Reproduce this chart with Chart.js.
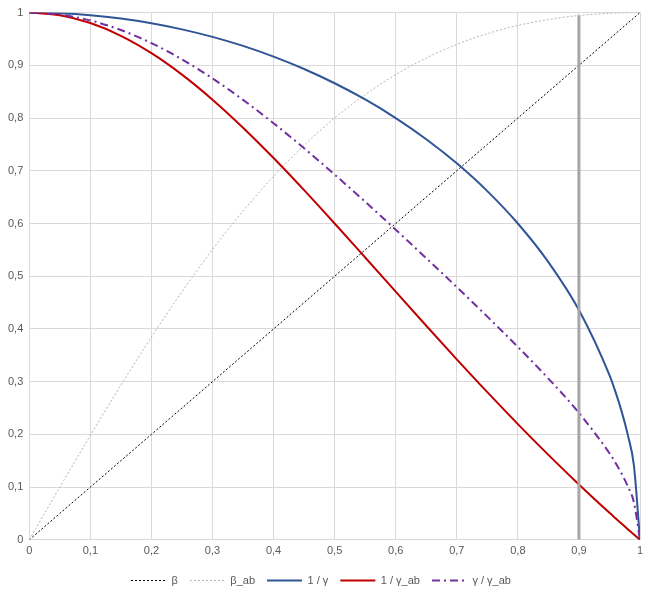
<!DOCTYPE html>
<html>
<head>
<meta charset="utf-8">
<script src="https://cdn.jsdelivr.net/npm/chart.js@4"></script>
<style>
  body { margin: 0; background: #fff; }
  #wrap { width: 655px; height: 598px; position: relative; }
</style>
</head>
<body>
<div id="wrap"><canvas id="myChart"></canvas></div>
<script>
// values
var betaVals   = [0, 0.05, 0.1, 0.15, 0.2, 0.25, 0.3, 0.35, 0.4, 0.45, 0.5, 0.55, 0.6, 0.65, 0.7, 0.75, 0.8, 0.85, 0.9, 0.95, 0.96, 0.97, 0.98, 0.99, 1];
var betaAb     = [0, 0.0998, 0.198, 0.2934, 0.3846, 0.4706, 0.5505, 0.6236, 0.6897, 0.7484, 0.8, 0.8445, 0.8824, 0.9139, 0.9396, 0.96, 0.9756, 0.9869, 0.9945, 0.9987, 0.9992, 0.9995, 0.9998, 0.99995, 1];
var invGamma   = [1, 0.9987, 0.995, 0.9887, 0.9798, 0.9682, 0.9539, 0.9368, 0.9165, 0.893, 0.866, 0.8352, 0.8, 0.7599, 0.7141, 0.6614, 0.6, 0.5268, 0.4359, 0.3122, 0.28, 0.2431, 0.199, 0.1411, 0];
var invGammaAb = [1, 0.995, 0.9802, 0.956, 0.9231, 0.8824, 0.8349, 0.7817, 0.7241, 0.6632, 0.6, 0.5355, 0.4706, 0.406, 0.3423, 0.28, 0.2195, 0.1611, 0.105, 0.0512, 0.0408, 0.0305, 0.0202, 0.01, 0];
var gammaRatio = [1, 0.9963, 0.9851, 0.9669, 0.9421, 0.9113, 0.8752, 0.8345, 0.7901, 0.7427, 0.6928, 0.6412, 0.5882, 0.5342, 0.4793, 0.4233, 0.3659, 0.3058, 0.2408, 0.1641, 0.1457, 0.1253, 0.1015, 0.0712, 0];
var markerX    = [0.9, 0.9];
var markerY    = [0, 0.9945];

function pts(xs, ys) {
  return xs.map(function (x, i) { return { x: x, y: ys[i] }; });
}
function fmt(v) {
  return String(Number(v.toFixed(1))).replace('.', ',');
}

var ctx = document.getElementById('myChart').getContext('2d');
var myChart = new Chart(ctx, {
  type: 'line',
  data: {
    datasets: [
      { label: 'β', data: pts(betaVals, betaVals), borderColor: '#000000', borderWidth: 1, borderDash: [2, 2], order: 5 },
      { label: 'β_ab', data: pts(betaVals, betaAb), borderColor: '#b4b4b4', borderWidth: 1, borderDash: [2, 2], cubicInterpolationMode: 'monotone', order: 4 },
      { label: '1 / γ', data: pts(betaVals, invGamma), borderColor: '#2f5597', borderWidth: 2, cubicInterpolationMode: 'monotone', order: 3 },
      { label: '1 / γ_ab', data: pts(betaVals, invGammaAb), borderColor: '#c00000', borderWidth: 2, cubicInterpolationMode: 'monotone', order: 2 },
      { label: 'γ / γ_ab', data: pts(betaVals, gammaRatio), borderColor: '#7030a0', borderWidth: 2, borderDash: [8, 4, 2, 4], cubicInterpolationMode: 'monotone', order: 1 },
      { label: 'marker', data: pts(markerX, markerY), borderColor: '#a6a6a6', borderWidth: 3, order: 0 }
    ]
  },
  options: {
    responsive: true,
    maintainAspectRatio: false,
    animation: false,
    elements: { point: { radius: 0, hoverRadius: 0 } },
    layout: { padding: { top: 9, right: 15, left: 2, bottom: 2 } },
    plugins: {
      tooltip: { enabled: false },
      legend: {
        position: 'bottom',
        labels: {
          usePointStyle: true,
          pointStyleWidth: 35,
          padding: 12,
          color: '#595959',
          font: { family: 'Liberation Sans', size: 11 },
          generateLabels: function (chart) {
            return chart.data.datasets.map(function (ds, i) {
              return {
                text: ds.label,
                datasetIndex: i,
                pointStyle: 'line',
                strokeStyle: ds.borderColor,
                fillStyle: ds.borderColor,
                lineWidth: ds.borderWidth,
                lineDash: ds.borderDash || [],
                fontColor: '#595959',
                hidden: false
              };
            }).filter(function (item) { return item.text !== 'marker'; });
          }
        }
      }
    },
    scales: {
      x: {
        type: 'linear',
        min: 0,
        max: 1,
        ticks: { stepSize: 0.1, color: '#595959', font: { family: 'Liberation Sans', size: 11 }, padding: 5, callback: fmt },
        grid: { color: '#d9d9d9', drawTicks: false },
        border: { color: '#d9d9d9' }
      },
      y: {
        min: 0,
        max: 1,
        ticks: { stepSize: 0.1, color: '#595959', font: { family: 'Liberation Sans', size: 11 }, padding: 6, callback: fmt },
        grid: { color: '#d9d9d9', drawTicks: false },
        border: { color: '#d9d9d9' }
      }
    }
  }
});
</script>
</body>
</html>
